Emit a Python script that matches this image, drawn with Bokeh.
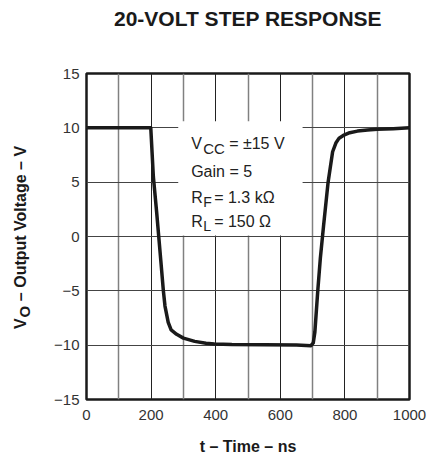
from bokeh.plotting import figure
from bokeh.models import FixedTicker, Label, ColumnDataSource
from bokeh.embed import file_html
from bokeh.resources import INLINE
import math

# ---- data ----
time_ns = [0, 199, 207, 217, 230, 238, 243, 253, 262, 279, 300, 335, 370, 396,
           450, 550, 650, 695, 702, 707, 716, 724, 734, 748, 762, 772, 782, 795,
           815, 839, 870, 900, 950, 1000]
vout = [10, 10, 5.5, 2.3, -2.2, -5.0, -6.4, -7.9, -8.6, -9.0, -9.35, -9.65, -9.82, -9.9,
        -9.95, -9.97, -9.98, -10.05, -9.8, -8.8, -5.0, -2.0, 1.0, 5.0, 7.8, 8.6, 9.05, 9.3,
        9.55, 9.7, 9.8, 9.86, 9.92, 10.0]

x_major_ticks = [0, 200, 400, 600, 800, 1000]
x_minor_ticks = [100, 300, 500, 700, 900]
y_ticks = [-15, -10, -5, 0, 5, 10, 15]
y_tick_labels = {-15: "\u221215", -10: "\u221210", -5: "\u22125", 0: "0", 5: "5", 10: "10", 15: "15"}

title_text = "20-VOLT STEP RESPONSE"
x_title = "t \u2013 Time \u2013 ns"
y_title_main = "V"
y_title_sub = "O"
y_title_rest = "\u2013 Output Voltage \u2013 V"

# legend box extent (data units)
box_left, box_right, box_bottom, box_top = 284, 669, 0.1, 10.6

FONT = "Liberation Sans"

p = figure(width=427, height=457, x_range=(0, 1000), y_range=(-15, 15),
           output_backend="svg", toolbar_location=None,
           min_border_left=85, min_border_right=18, min_border_top=73, min_border_bottom=56,
           background_fill_color="white", border_fill_color="white")

# axes / ticks
xt = FixedTicker(ticks=x_major_ticks, minor_ticks=x_minor_ticks)
yt = FixedTicker(ticks=y_ticks)
p.xaxis.ticker = xt
p.yaxis.ticker = yt
p.xgrid.ticker = xt
p.ygrid.ticker = yt
p.yaxis.major_label_overrides = y_tick_labels

for ax in (p.xaxis[0], p.yaxis[0]):
    ax.axis_line_color = None
    ax.major_tick_line_color = None
    ax.minor_tick_line_color = None
    ax.major_tick_out = 0
    ax.major_tick_in = 0
    ax.major_label_text_font = FONT
    ax.major_label_text_font_size = "15px"
    ax.major_label_text_color = "#333333"
p.xaxis.major_label_standoff = 6
p.yaxis.major_label_standoff = 7

p.xaxis.axis_label = x_title
p.xaxis.axis_label_text_font = FONT
p.xaxis.axis_label_text_font_size = "16px"
p.xaxis.axis_label_text_font_style = "bold"
p.xaxis.axis_label_text_color = "#1a1a1a"
p.xaxis.axis_label_standoff = 15

p.xgrid.grid_line_color = "#222222"
p.xgrid.grid_line_width = 1
p.xgrid.minor_grid_line_color = "#808080"
p.xgrid.minor_grid_line_width = 1.5
p.ygrid.grid_line_color = "#444444"
p.ygrid.grid_line_width = 1

p.outline_line_color = "#1a1a1a"
p.outline_line_width = 2.5

# white box behind the conditions text
p.quad(left=[box_left], right=[box_right], bottom=[box_bottom], top=[box_top],
       fill_color="white", line_color=None)

# curve
src = ColumnDataSource(data=dict(t=time_ns, v=vout))
p.line("t", "v", source=src, line_color="#1a1a1a", line_width=3.5, line_join="round")

def mk(x, y, text, size="16px", style="normal", angle=0, x_offset=0, color="#222222", align="left"):
    return Label(x=x, y=y, text=text, text_font=FONT, text_font_size=size,
                 text_font_style=style, text_align=align, text_baseline="alphabetic",
                 angle=angle, x_offset=x_offset, text_color=color)

# conditions text
tx = 324
for lb in [
    mk(tx, 8.55, "V"),
    mk(tx, 8.14, "CC", size="15px", x_offset=12),
    mk(tx, 8.55, "= \u00b115 V", x_offset=38),
    mk(tx, 5.97, "Gain = 5"),
    mk(tx, 3.63, "R"),
    mk(tx, 3.22, "F", size="14px", x_offset=12),
    mk(tx, 3.63, "= 1.3 k\u03a9", x_offset=23),
    mk(tx, 1.34, "R"),
    mk(tx, 0.93, "L", size="14px", x_offset=12),
    mk(tx, 1.34, "= 150 \u03a9", x_offset=23),
]:
    p.add_layout(lb)

# chart title in the top panel
p.add_layout(mk(500, 20.1, title_text, size="21px", style="bold", color="#1a1a1a", align="center"), "above")

# y axis title (with subscript) placed in the left panel
for lb in [
    mk(-204.6, -8.51, y_title_main, style="bold", angle=math.pi / 2, color="#1a1a1a"),
    mk(-192.8, -7.45, y_title_sub, size="15px", style="bold", angle=math.pi / 2, color="#1a1a1a"),
    mk(-204.6, -5.95, y_title_rest, style="bold", angle=math.pi / 2, color="#1a1a1a"),
]:
    p.add_layout(lb, "left")

open("out.html", "w").write(file_html(p, INLINE))
